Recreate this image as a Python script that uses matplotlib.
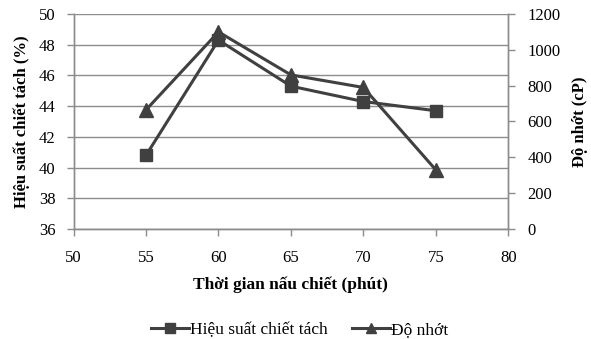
import matplotlib
matplotlib.use("Agg")
import matplotlib.pyplot as plt
from matplotlib.lines import Line2D

time_min = [55, 60, 65, 70, 75]
efficiency = [40.8, 48.3, 45.3, 44.3, 43.7]
viscosity = [665, 1100, 860, 790, 330]

left_ticks = [36, 38, 40, 42, 44, 46, 48, 50]
right_ticks = [0, 200, 400, 600, 800, 1000, 1200]
x_ticks = [50, 55, 60, 65, 70, 75, 80]

plt.rcParams['font.family'] = ['Liberation Serif', 'DejaVu Serif']
dark = '#404040'
gridc = '#8c8c8c'

fig = plt.figure(figsize=(5.91, 3.39), dpi=100)
ax = fig.add_axes([0.1245, 0.3245, 0.7355, 0.6342])
ax2 = ax.twinx()

ax.set_xlim(50, 80)
ax.set_ylim(36, 50)
ax2.set_ylim(0, 1200)
ax.set_xticks(x_ticks)
ax.set_yticks(left_ticks)
ax2.set_yticks(right_ticks)

ax.yaxis.grid(True, color=gridc, linewidth=1.0)
ax.set_axisbelow(True)
ax.spines['top'].set_visible(False)
ax2.spines['top'].set_visible(False)
for a in (ax, ax2):
    for s in a.spines.values():
        s.set_color(gridc)
        s.set_linewidth(1.0)
ax.tick_params(axis='both', colors=gridc, labelcolor='black', labelsize=12, length=5, width=1.0)
ax.tick_params(axis='y', pad=8)
ax.tick_params(axis='x', pad=10)
ax2.tick_params(axis='y', colors=gridc, labelcolor='black', labelsize=12, length=5, width=1.0, pad=9)

ax.plot(time_min, efficiency, color=dark, linewidth=2.2, marker='s', markersize=9, zorder=3)
ax2.plot(time_min, viscosity, color=dark, linewidth=2.2, marker='^', markersize=10, zorder=3)

ax.set_xlabel('Thời gian nấu chiết (phút)', fontsize=12.5, fontweight='bold', labelpad=8)
ax.set_ylabel('Hiệu suất chiết tách (%)', fontsize=12, fontweight='bold', labelpad=6)
ax2.set_ylabel('Độ nhớt (cP)', fontsize=12, fontweight='bold', labelpad=8)

h1 = Line2D([], [], color=dark, linewidth=2.2, marker='s', markersize=7)
h2 = Line2D([], [], color=dark, linewidth=2.2, marker='^', markersize=7)
fig.legend([h1, h2], ['Hiệu suất chiết tách', 'Độ nhớt'], loc='center',
           bbox_to_anchor=(0.507, 0.027), ncol=2, frameon=False, fontsize=12.5,
           handlelength=2.2, handletextpad=0.05, columnspacing=1.4)

fig.savefig('out.png', dpi=100)
